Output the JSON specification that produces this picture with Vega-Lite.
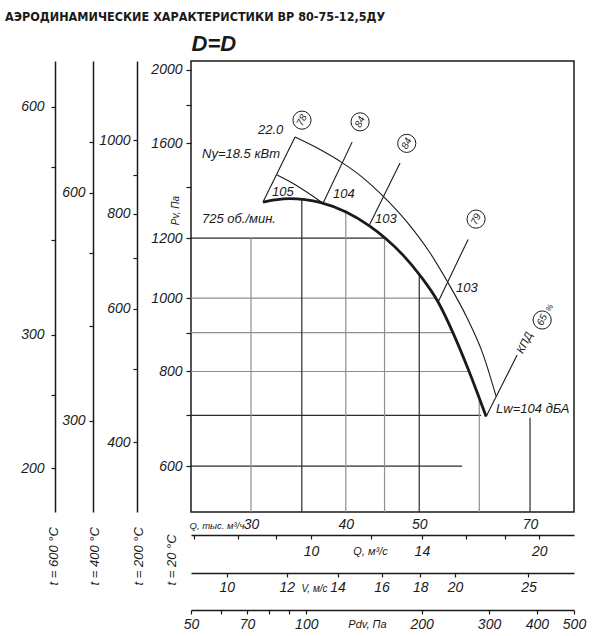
{
  "$schema": "https://vega.github.io/schema/vega-lite/v6.json",
  "autosize": "none",
  "padding": {"left": 191, "top": 61, "right": 28, "bottom": 124},
  "width": 383,
  "height": 451,
  "title": {
    "text": "АЭРОДИНАМИЧЕСКИЕ ХАРАКТЕРИСТИКИ ВР 80-75-12,5ДУ",
    "anchor": "start",
    "frame": "group",
    "dx": -186,
    "offset": 9,
    "font": "Liberation Sans Narrow, DejaVu Sans Condensed, Liberation Sans",
    "fontSize": 12.5,
    "fontWeight": "bold",
    "color": "#1a1a1a"
  },
  "datasets": {
    "grid": [
      {"q": 25, "q2": 45.07, "p": 1200, "p2": 1200, "grade": "major"},
      {"q": 25, "q2": 52.55, "p": 1000, "p2": 1000, "grade": "minor"},
      {"q": 25, "q2": 55.4, "p": 900, "p2": 900, "grade": "minor"},
      {"q": 25, "q2": 58.18, "p": 800, "p2": 800, "grade": "minor"},
      {"q": 25, "q2": 60.34, "p": 700, "p2": 700, "grade": "major"},
      {"q": 25, "q2": 56.95, "p": 600, "p2": 600, "grade": "major"},
      {"q": 30, "q2": 30, "p": 522, "p2": 1200, "grade": "minor"},
      {"q": 35, "q2": 35, "p": 522, "p2": 1349, "grade": "major"},
      {"q": 40, "q2": 40, "p": 522, "p2": 1299, "grade": "minor"},
      {"q": 45, "q2": 45, "p": 522, "p2": 1202, "grade": "minor"},
      {"q": 50, "q2": 50, "p": 522, "p2": 1074, "grade": "major"},
      {"q": 60, "q2": 60, "p": 522, "p2": 738, "grade": "minor"},
      {"q": 70, "q2": 70, "p": 522, "p2": 695, "grade": "major"}
    ],
    "curves": [
      {"curve": "n725", "q": 31.11, "p": 1338.6},
      {"curve": "n725", "q": 32.27, "p": 1347.6},
      {"curve": "n725", "q": 33.77, "p": 1353.1},
      {"curve": "n725", "q": 35.35, "p": 1348.5},
      {"curve": "n725", "q": 36.99, "p": 1337.5},
      {"curve": "n725", "q": 40.04, "p": 1298.6},
      {"curve": "n725", "q": 43.07, "p": 1243.1},
      {"curve": "n725", "q": 45.07, "p": 1200},
      {"curve": "n725", "q": 47.6, "p": 1139.3},
      {"curve": "n725", "q": 50.13, "p": 1070.9},
      {"curve": "n725", "q": 52.95, "p": 988.1},
      {"curve": "n725", "q": 55.42, "p": 899.1},
      {"curve": "n725", "q": 58.0, "p": 806.1},
      {"curve": "n725", "q": 59.79, "p": 744.9},
      {"curve": "n725", "q": 61.26, "p": 697.6},
      {"curve": "upper", "q": 34.29, "p": 1631},
      {"curve": "upper", "q": 36.99, "p": 1570.2},
      {"curve": "upper", "q": 39.55, "p": 1509.2},
      {"curve": "upper", "q": 42.04, "p": 1444.2},
      {"curve": "upper", "q": 44.66, "p": 1367.5},
      {"curve": "upper", "q": 48.19, "p": 1259.7},
      {"curve": "upper", "q": 51.68, "p": 1146.6},
      {"curve": "upper", "q": 54.41, "p": 1053},
      {"curve": "upper", "q": 57.83, "p": 941.2},
      {"curve": "upper", "q": 60.71, "p": 842.2},
      {"curve": "upper", "q": 63.15, "p": 741.6},
      {"curve": "ny", "q": 32.47, "p": 1453},
      {"curve": "ny", "q": 34.09, "p": 1416},
      {"curve": "ny", "q": 37.33, "p": 1334},
      {"curve": "eta78", "q": 31.11, "p": 1338.6},
      {"curve": "eta78", "q": 34.29, "p": 1631},
      {"curve": "eta84a", "q": 37.33, "p": 1334},
      {"curve": "eta84a", "q": 40.78, "p": 1606},
      {"curve": "eta84b", "q": 42.93, "p": 1245.4},
      {"curve": "eta84b", "q": 47.17, "p": 1507},
      {"curve": "eta79", "q": 52.95, "p": 988.1},
      {"curve": "eta79", "q": 58.0, "p": 1195},
      {"curve": "eta65", "q": 61.26, "p": 697.6},
      {"curve": "eta65", "q": 67.31, "p": 840.8}
    ],
    "efficiency": [
      {"eta": "78", "q": 35.02, "p": 1717},
      {"eta": "84", "q": 41.78, "p": 1708},
      {"eta": "84", "q": 48.14, "p": 1600},
      {"eta": "79", "q": 59.42, "p": 1271},
      {"eta": "65", "q": 72.63, "p": 935.5}
    ],
    "notes": [
      {"label": "22.0", "q": 30.64, "p": 1666},
      {"label": "Ny=18.5 кВт", "q": 25.85, "p": 1548.8},
      {"label": "725 об./мин.", "q": 25.85, "p": 1273},
      {"label": "105", "q": 31.98, "p": 1379.9},
      {"label": "104", "q": 38.49, "p": 1371.6},
      {"label": "103", "q": 43.72, "p": 1271},
      {"label": "103", "q": 55.92, "p": 1031},
      {"label": "Lw=104 дБА", "q": 63.15, "p": 713.8}
    ]
  },
  "layer": [
    {
      "encoding": {
        "x": {
          "field": "q",
          "type": "quantitative",
          "scale": {"type": "log", "domain": [25, 80]},
          "axis": {
            "orient": "bottom",
            "values": [30, 40, 50, 70],
            "format": "d",
            "ticks": false,
            "domain": false,
            "labelPadding": 5,
            "title": "Q, тыс. м³/ч",
            "titleX": -2,
            "titleY": 13,
            "titleAlign": "left",
            "titleBaseline": "middle",
            "titleFontSize": 9.5
          }
        },
        "y": {
          "field": "p",
          "type": "quantitative",
          "scale": {"type": "log", "domain": [522, 2055]},
          "axis": {
            "orient": "left",
            "values": [600, 700, 800, 900, 1000, 1200, 1400, 1600, 1800, 2000],
            "format": "d",
            "labelExpr": "indexof([600, 800, 1000, 1200, 1600, 2000], datum.value) >= 0 ? datum.label : ''",
            "tickSize": 5,
            "domain": false,
            "labelPadding": 4,
            "title": "Pv, Па",
            "titleX": -16,
            "titleY": 149,
            "titleAngle": 270,
            "titleAlign": "center",
            "titleBaseline": "middle",
            "titleFontSize": 10
          }
        }
      },
      "layer": [
        {
          "data": {"name": "grid"},
          "mark": {"type": "rule", "strokeWidth": 1.2},
          "encoding": {
            "x2": {"field": "q2"},
            "y2": {"field": "p2"},
            "color": {
              "field": "grade",
              "type": "nominal",
              "scale": {"domain": ["major", "minor"], "range": ["#2b2b2b", "#8f8f8f"]},
              "legend": null
            }
          }
        },
        {
          "data": {"name": "curves"},
          "transform": [{"filter": "datum.curve !== 'n725'"}],
          "mark": {"type": "line", "color": "#1a1a1a", "strokeWidth": 1.1, "interpolate": "monotone"},
          "encoding": {"detail": {"field": "curve", "type": "nominal"}}
        },
        {
          "data": {"name": "curves"},
          "transform": [{"filter": "datum.curve === 'n725'"}],
          "mark": {"type": "line", "color": "#1a1a1a", "strokeWidth": 2.8, "interpolate": "monotone"},
          "encoding": {"detail": {"field": "curve", "type": "nominal"}}
        },
        {
          "data": {"name": "notes"},
          "mark": {"type": "text", "align": "left", "baseline": "middle", "fontSize": 13},
          "encoding": {"text": {"field": "label"}}
        },
        {
          "data": {"name": "efficiency"},
          "mark": {"type": "point", "shape": "circle", "size": 330, "filled": true, "fill": "white", "stroke": "#1a1a1a", "strokeWidth": 1, "opacity": 1}
        },
        {
          "data": {"name": "efficiency"},
          "mark": {"type": "text", "align": "center", "baseline": "middle", "angle": 295, "fontSize": 10},
          "encoding": {"text": {"field": "eta"}}
        },
        {
          "data": {"values": [{"label": "КПД", "q": 68.97, "p": 872.5}]},
          "mark": {"type": "text", "align": "center", "baseline": "middle", "angle": 297, "fontSize": 11},
          "encoding": {"text": {"field": "label"}}
        },
        {
          "data": {"values": [{"label": "%", "q": 74.4, "p": 970}]},
          "mark": {"type": "text", "align": "center", "baseline": "middle", "angle": 297, "fontSize": 8},
          "encoding": {"text": {"field": "label"}}
        }
      ]
    },
    {
      "data": {"values": [{"v": 200}, {"v": 600}]},
      "mark": {"type": "point", "opacity": 0},
      "encoding": {
        "y": {
          "field": "v",
          "type": "quantitative",
          "scale": {"type": "log", "domain": [175.2, 689.7]},
          "axis": {
            "orient": "left",
            "offset": 136,
            "values": [200, 250, 300, 400, 500, 600],
            "format": "d",
            "labelExpr": "indexof([200, 300, 600], datum.value) >= 0 ? datum.label : ''",
            "tickSize": 4,
            "labelPadding": 7,
            "title": "t = 600 °C",
            "titleX": -2,
            "titleY": 524,
            "titleAngle": 270,
            "titleAlign": "left",
            "titleBaseline": "middle",
            "titleFontSize": 13
          }
        }
      }
    },
    {
      "data": {"values": [{"v": 300}, {"v": 600}]},
      "mark": {"type": "point", "opacity": 0},
      "encoding": {
        "y": {
          "field": "v",
          "type": "quantitative",
          "scale": {"type": "log", "domain": [227.3, 894.7]},
          "axis": {
            "orient": "left",
            "offset": 98,
            "values": [300, 400, 500, 600, 700],
            "format": "d",
            "labelExpr": "indexof([300, 600], datum.value) >= 0 ? datum.label : ''",
            "tickSize": 4,
            "labelPadding": 4,
            "title": "t = 400 °C",
            "titleX": 1,
            "titleY": 524,
            "titleAngle": 270,
            "titleAlign": "left",
            "titleBaseline": "middle",
            "titleFontSize": 13
          }
        }
      }
    },
    {
      "data": {"values": [{"v": 400}, {"v": 1000}]},
      "mark": {"type": "point", "opacity": 0},
      "encoding": {
        "y": {
          "field": "v",
          "type": "quantitative",
          "scale": {"type": "log", "domain": [323.4, 1273]},
          "axis": {
            "orient": "left",
            "offset": 54,
            "values": [400, 500, 600, 700, 800, 900, 1000],
            "format": "d",
            "labelExpr": "indexof([400, 600, 800, 1000], datum.value) >= 0 ? datum.label : ''",
            "tickSize": 4,
            "labelPadding": 3,
            "title": "t = 200 °C",
            "titleX": 1.5,
            "titleY": 524,
            "titleAngle": 270,
            "titleAlign": "left",
            "titleBaseline": "middle",
            "titleFontSize": 13
          }
        }
      }
    },
    {
      "data": {"values": [{"v": 600}, {"v": 2000}]},
      "mark": {"type": "point", "opacity": 0},
      "encoding": {
        "y": {
          "field": "v",
          "type": "quantitative",
          "scale": {"type": "log", "domain": [522, 2055]},
          "axis": {
            "orient": "left",
            "domain": false,
            "ticks": false,
            "labels": false,
            "title": "t = 20 °C",
            "titleX": -19.5,
            "titleY": 524,
            "titleAngle": 270,
            "titleAlign": "left",
            "titleBaseline": "middle",
            "titleFontSize": 13
          }
        }
      }
    },
    {
      "data": {"values": [{"v": 10}, {"v": 20}]},
      "mark": {"type": "point", "opacity": 0},
      "encoding": {
        "x": {
          "field": "v",
          "type": "quantitative",
          "scale": {"type": "log", "domain": [6.944, 22.222]},
          "axis": {
            "orient": "bottom",
            "offset": 23,
            "values": [7, 8, 9, 10, 12, 14, 16, 18, 20],
            "format": "d",
            "labelExpr": "indexof([10, 14, 20], datum.value) >= 0 ? datum.label : ''",
            "tickSize": 4,
            "labelPadding": 5,
            "title": "Q, м³/с",
            "titleX": 179,
            "titleY": 16,
            "titleAlign": "center",
            "titleBaseline": "middle",
            "titleFontSize": 11
          }
        }
      }
    },
    {
      "data": {"values": [{"v": 10}, {"v": 25}]},
      "mark": {"type": "point", "opacity": 0},
      "encoding": {
        "x": {
          "field": "v",
          "type": "quantitative",
          "scale": {"type": "log", "domain": [8.97, 28.71]},
          "axis": {
            "orient": "bottom",
            "offset": 61,
            "values": [10, 12, 14, 16, 18, 20, 25],
            "format": "d",
            "tickSize": 4,
            "labelPadding": 3,
            "title": "V, м/с",
            "titleX": 123,
            "titleY": 15,
            "titleAlign": "center",
            "titleBaseline": "middle",
            "titleFontSize": 10
          }
        }
      }
    },
    {
      "data": {"values": [{"v": 50}, {"v": 500}]},
      "mark": {"type": "point", "opacity": 0},
      "encoding": {
        "x": {
          "field": "v",
          "type": "quantitative",
          "scale": {"type": "log", "domain": [50, 500]},
          "axis": {
            "orient": "bottom",
            "offset": 98,
            "values": [50, 60, 70, 80, 90, 100, 200, 300, 400, 500],
            "format": "d",
            "labelExpr": "indexof([50, 70, 100, 200, 300, 400, 500], datum.value) >= 0 ? datum.label : ''",
            "tickSize": 4,
            "labelPadding": 3,
            "title": "Pdv, Па",
            "titleX": 176,
            "titleY": 14,
            "titleAlign": "center",
            "titleBaseline": "middle",
            "titleFontSize": 11
          }
        }
      }
    },
    {
      "data": {"values": [{"v": 30}]},
      "mark": {"type": "point", "opacity": 0},
      "encoding": {
        "x": {
          "field": "v",
          "type": "quantitative",
          "scale": {"type": "log", "domain": [25, 80]},
          "axis": {
            "orient": "top",
            "domain": false,
            "ticks": false,
            "labels": false,
            "title": "D=D",
            "titleAnchor": "start",
            "titleAlign": "left",
            "titlePadding": 6,
            "titleFontSize": 22,
            "titleFontWeight": "bold",
            "titleFontStyle": "italic"
          }
        }
      }
    }
  ],
  "resolve": {
    "scale": {"x": "independent", "y": "independent"},
    "axis": {"x": "independent", "y": "independent"}
  },
  "config": {
    "font": "Liberation Sans",
    "view": {"stroke": "#1a1a1a", "strokeWidth": 1.5},
    "axis": {
      "grid": false,
      "labelFont": "Liberation Sans",
      "labelFontStyle": "italic",
      "labelFontSize": 14,
      "labelColor": "#1a1a1a",
      "labelFlush": false,
      "labelOverlap": false,
      "titleFont": "Liberation Sans",
      "titleFontStyle": "italic",
      "titleFontWeight": "normal",
      "titleColor": "#1a1a1a",
      "tickColor": "#1a1a1a",
      "tickWidth": 1.2,
      "domainColor": "#1a1a1a",
      "domainWidth": 1.5
    },
    "text": {"font": "Liberation Sans", "fontStyle": "italic", "color": "#1a1a1a"}
  }
}
